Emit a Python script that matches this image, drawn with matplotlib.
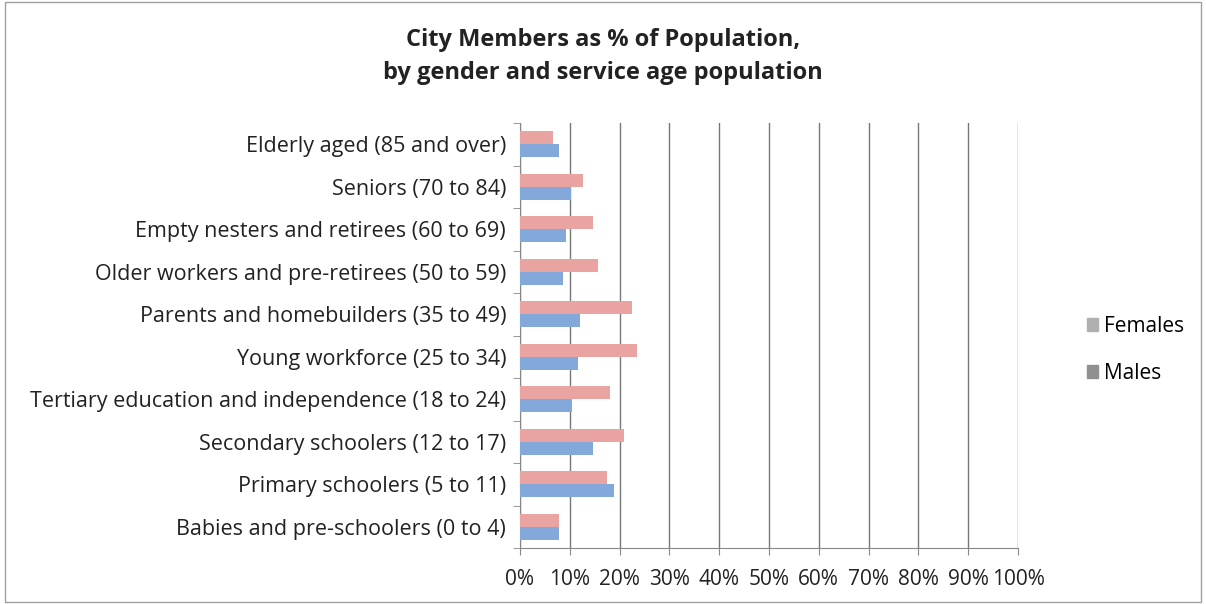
import matplotlib.pyplot as plt
import numpy as np
from matplotlib.patches import Rectangle

categories = [
    "Babies and pre-schoolers (0 to 4)",
    "Primary schoolers (5 to 11)",
    "Secondary schoolers (12 to 17)",
    "Tertiary education and independence (18 to 24)",
    "Young workforce (25 to 34)",
    "Parents and homebuilders (35 to 49)",
    "Older workers and pre-retirees (50 to 59)",
    "Empty nesters and retirees (60 to 69)",
    "Seniors (70 to 84)",
    "Elderly aged (85 and over)",
]
females = [7.8, 17.5, 20.9, 18.1, 23.5, 22.5, 15.7, 14.7, 12.7, 6.6]
males = [7.8, 18.9, 14.7, 10.4, 11.6, 12.0, 8.6, 9.2, 10.2, 7.8]
xticks = list(range(0, 101, 10))
xtick_labels = [f"{t}%" for t in xticks]

plt.rcParams['font.family'] = ['Open Sans', 'DejaVu Sans']
fs = 15.5

fig = plt.figure(figsize=(12.06, 6.04), dpi=100)
ax = fig.add_axes([520 / 1206, 1 - 548 / 604, 498 / 1206, 425 / 604])

y = np.arange(len(categories))
h = 0.31
ax.barh(y + h / 2, females, height=h, color='#e9a3a0', label='Females', zorder=3)
ax.barh(y - h / 2, males, height=h, color='#82a9d9', label='Males', zorder=3)

ax.set_xlim(0, 100)
ax.set_ylim(-0.5, len(categories) - 0.5)
ax.set_xticks(xticks)
ax.set_xticklabels(xtick_labels, fontsize=15, color='#222222')
ax.set_yticks(y)
ax.set_yticklabels(categories, fontsize=fs, color='#222222')
ax.set_yticks(np.arange(-0.5, len(categories), 1), minor=True)
ax.tick_params(axis='y', which='major', length=0, pad=10)
ax.tick_params(axis='y', which='minor', length=5, direction='out', color='#888888')
ax.tick_params(axis='x', length=5, direction='out', color='#888888', pad=10)
ax.grid(axis='x', color='#777777', linewidth=1, zorder=0)
for side in ['top', 'right']:
    ax.spines[side].set_visible(False)
for side in ['left', 'bottom']:
    ax.spines[side].set_color('#888888')

fig.text(0.5, 1 - 40 / 604, "City Members as % of Population,", ha='center', va='center',
         fontsize=17, fontweight='bold', color='#222222')
fig.text(0.5, 1 - 73 / 604, "by gender and service age population", ha='center', va='center',
         fontsize=17, fontweight='bold', color='#222222')

handles, labels = ax.get_legend_handles_labels()
leg = fig.legend(handles, labels, loc='center left', bbox_to_anchor=(1068 / 1206, 1 - 350 / 604),
                 frameon=False, fontsize=15, handlelength=0.55, handleheight=0.55,
                 labelspacing=1.25, handletextpad=0.3)
for patch in leg.get_patches():
    patch.set_color('#b0b0b0')
leg.get_patches()[1].set_color('#909090')

fig.patches.append(Rectangle((0.004, 0.004), 0.992, 0.992, transform=fig.transFigure,
                             fill=False, edgecolor='#a0a0a0', linewidth=1))

fig.savefig('out.png', dpi=100)
